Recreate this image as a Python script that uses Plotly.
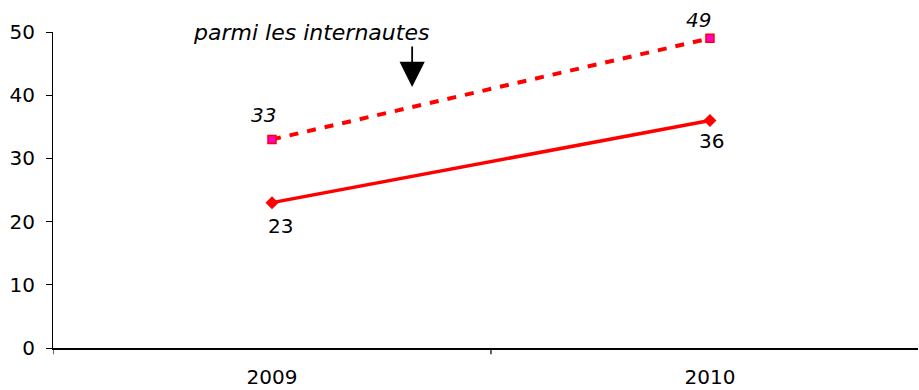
import plotly.graph_objects as go

# Data
years = ["2009", "2010"]
ensemble = [23, 36]
internautes = [33, 49]
y_ticks = [0, 10, 20, 30, 40, 50]

FONT = "DejaVu Sans"

fig = go.Figure()

# Dashed series: among internet users
fig.add_trace(go.Scatter(
    x=[0, 1], y=internautes,
    mode="lines+markers",
    line=dict(color="#ff0000", width=4, dash="9px,9px"),
    marker=dict(symbol="square", size=8, color="#ff00cc",
                line=dict(color="#ff0000", width=1.5)),
    showlegend=False,
))

# Solid series
fig.add_trace(go.Scatter(
    x=[0, 1], y=ensemble,
    mode="lines+markers",
    line=dict(color="#ff0000", width=3.5),
    marker=dict(symbol="diamond", size=10, color="#ff0000"),
    showlegend=False,
))

# Value labels
label_shifts_int = [(-8, 24), (-11, 18)]
label_shifts_ens = [(9, -23), (2, -21)]
for i, v in enumerate(internautes):
    dx, dy = label_shifts_int[i]
    fig.add_annotation(x=i, y=v, text=f"<i>{v}</i>", showarrow=False,
                       xshift=dx, yshift=dy,
                       font=dict(family=FONT, size=20, color="black"))
for i, v in enumerate(ensemble):
    dx, dy = label_shifts_ens[i]
    fig.add_annotation(x=i, y=v, text=str(v), showarrow=False,
                       xshift=dx, yshift=dy,
                       font=dict(family=FONT, size=20, color="black"))

# Annotation text and arrow
fig.add_annotation(
    x=0.088, y=1.0, xref="x", yref="paper",
    text="<i>parmi les internautes</i>", showarrow=False,
    font=dict(family=FONT, size=22, color="black"),
    xanchor="center", yanchor="middle",
)
fig.add_annotation(
    x=0.32, y=41.3, xref="x", yref="y",
    ax=0, ay=-42,
    text="", showarrow=True,
    arrowhead=2, arrowsize=2.8, arrowwidth=1.8, arrowcolor="black",
)

fig.update_xaxes(
    range=[-0.5, 1.475],
    tickmode="array", tickvals=[0, 1], ticktext=years,
    showline=True, linecolor="black", linewidth=1.5,
    ticks="", showgrid=False, zeroline=False, automargin=False,
    ticklabelstandoff=10,
    tickfont=dict(family=FONT, size=20, color="black"),
)
# category boundary ticks on x axis
for xv in [-0.5, 0.5]:
    fig.add_shape(type="line", xref="x", yref="paper",
                  x0=xv, x1=xv, y0=0, y1=-0.02,
                  line=dict(color="black", width=1.2))

fig.update_yaxes(
    range=[0, 50],
    tickmode="array", tickvals=y_ticks,
    showline=True, linecolor="black", linewidth=1.2,
    ticks="outside", ticklen=6, tickcolor="black",
    showgrid=False, zeroline=False, automargin=False,
    ticklabelstandoff=7,
    tickfont=dict(family=FONT, size=20, color="black"),
)

fig.update_layout(
    width=919, height=390,
    margin=dict(l=53, r=1, t=32, b=42),
    plot_bgcolor="white", paper_bgcolor="white",
)

# drop the page's default body margin so the figure sits at the top-left corner
fig.write_html("out.html", config={"displayModeBar": False},
               post_script="document.body.style.margin='0';")
